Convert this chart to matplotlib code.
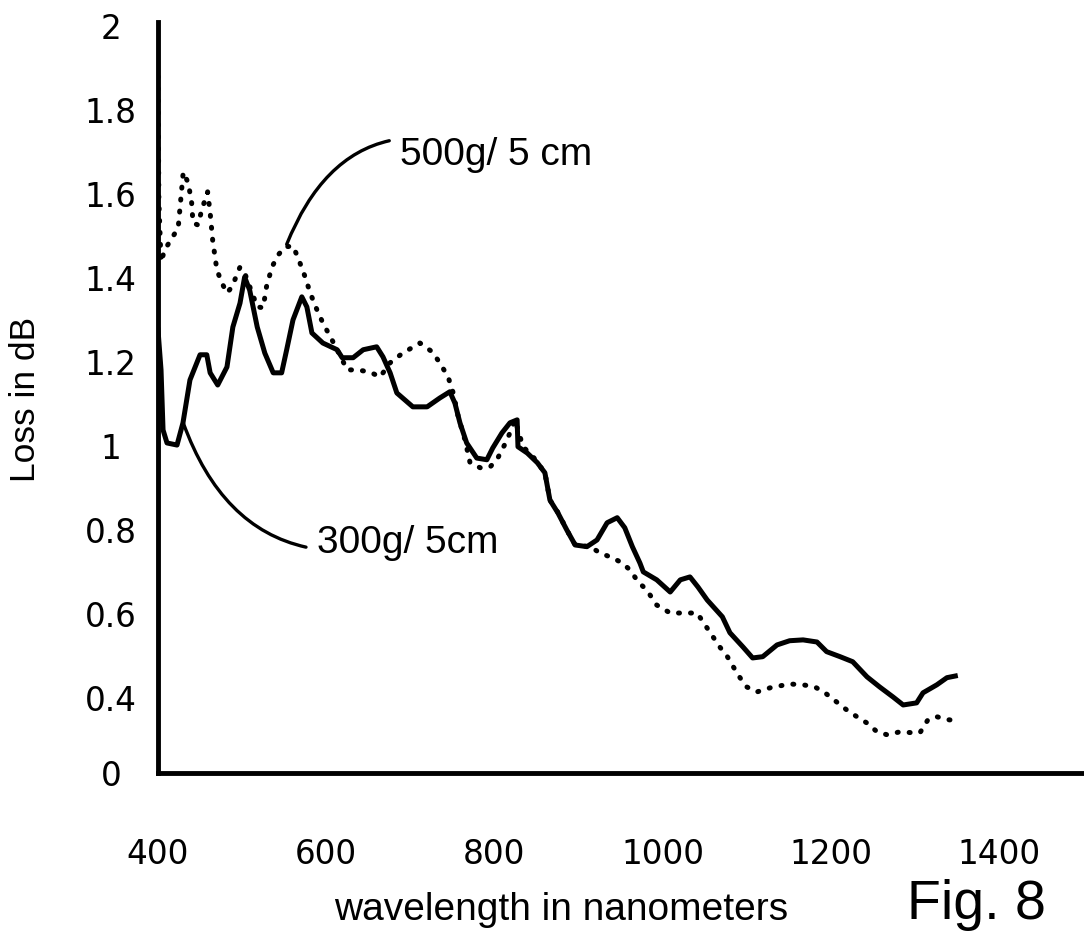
import numpy as np
import matplotlib.pyplot as plt

plt.rcParams['font.family'] = ['Liberation Sans', 'DejaVu Sans']

# 300g / 5cm (solid line)
wl_300 = [400, 403.6, 406, 410.7, 422.6, 429.7, 438, 450, 458, 462, 471, 482, 489, 497.5,
          503, 509, 518, 527, 537, 547, 553, 560.5, 571, 577, 583, 596, 613, 619, 632, 644,
          660, 667.5, 676, 684, 703, 720, 735, 747, 753, 759, 767, 779, 791, 798, 809, 818.5,
          827, 828, 839, 851, 860, 866, 875.6, 886, 896, 910, 922, 934, 946, 955, 964, 973,
          977, 993, 1009, 1021, 1032.5, 1042, 1053, 1071, 1080, 1095.6, 1107, 1119, 1136,
          1151, 1167, 1183.5, 1195, 1211, 1226, 1243, 1258, 1274, 1286, 1302, 1309.6, 1326,
          1338, 1348]
loss_300 = [1.276, 1.181, 1.038, 1.007, 1.002, 1.055, 1.157, 1.217, 1.217, 1.174, 1.145, 1.188,
            1.283, 1.340, 1.402, 1.371, 1.283, 1.221, 1.174, 1.174, 1.229, 1.300, 1.355, 1.331,
            1.269, 1.245, 1.229, 1.210, 1.210, 1.229, 1.236, 1.212, 1.174, 1.126, 1.093, 1.093,
            1.114, 1.129, 1.102, 1.055, 1.007, 0.971, 0.967, 0.995, 1.031, 1.055, 1.062, 0.998,
            0.983, 0.960, 0.936, 0.871, 0.840, 0.800, 0.764, 0.760, 0.776, 0.817, 0.829, 0.805,
            0.760, 0.721, 0.700, 0.681, 0.652, 0.681, 0.688, 0.664, 0.633, 0.593, 0.555, 0.521,
            0.495, 0.498, 0.526, 0.536, 0.538, 0.533, 0.510, 0.498, 0.486, 0.450, 0.426, 0.402,
            0.383, 0.388, 0.412, 0.431, 0.448, 0.452]

# 500g / 5 cm (dotted line)
wl_500 = [400, 401, 403.6, 408, 416.6, 424, 430, 436, 440, 441.6, 447.6, 452, 459, 462, 465,
          470, 476, 482, 488, 497.5, 503, 518, 525, 529, 535.5, 543, 551, 560.5, 566.5, 575,
          581, 589, 596, 607, 619, 625, 637, 652, 664, 676, 691, 711.5, 726, 735, 745, 751,
          757, 765, 771, 783, 795, 804, 815, 824.5, 834, 846, 860, 866, 876, 886, 896, 914,
          925.5, 941, 952, 961, 971, 981, 993, 1009, 1029, 1041, 1068, 1077, 1084, 1092, 1100,
          1112, 1128, 1151, 1167, 1181, 1193, 1207, 1219, 1231, 1243, 1255, 1267, 1282,
          1296.5, 1306, 1315.5, 1326, 1339, 1353.6]
loss_500 = [1.88, 1.586, 1.438, 1.467, 1.495, 1.519, 1.652, 1.626, 1.579, 1.531, 1.526, 1.562,
            1.605, 1.555, 1.490, 1.419, 1.388, 1.364, 1.379, 1.426, 1.412, 1.331, 1.329, 1.379,
            1.426, 1.455, 1.474, 1.476, 1.448, 1.402, 1.364, 1.324, 1.293, 1.252, 1.205, 1.181,
            1.181, 1.176, 1.164, 1.198, 1.221, 1.245, 1.224, 1.198, 1.164, 1.126, 1.069, 1.014,
            0.960, 0.948, 0.950, 0.971, 1.014, 1.062, 0.998, 0.974, 0.936, 0.871, 0.840, 0.800,
            0.764, 0.760, 0.745, 0.733, 0.721, 0.705, 0.676, 0.657, 0.621, 0.602, 0.602, 0.602,
            0.521, 0.498, 0.474, 0.448, 0.426, 0.414, 0.424, 0.433, 0.431, 0.426, 0.412, 0.390,
            0.371, 0.355, 0.340, 0.319, 0.312, 0.319, 0.317, 0.317, 0.348, 0.355, 0.348, 0.345]

# the printed axis has no 0.2 label, the bottom line is labelled 0
y_bottom = 0.221
ytick_vals = [y_bottom, 0.4, 0.6, 0.8, 1.0, 1.2, 1.4, 1.6, 1.8, 2.0]
ytick_labels = ['0', '0.4', '0.6', '0.8', '1', '1.2', '1.4', '1.6', '1.8', '2']
xtick_vals = [400, 600, 800, 1000, 1200, 1400]

fig = plt.figure(figsize=(10.84, 9.40), dpi=100)
ax = fig.add_axes([158 / 1084, 1 - 773 / 940, 926 / 1084, 751 / 940])

ax.plot(wl_300, loss_300, color='black', lw=3.6, solid_joinstyle='round')
ax.plot(wl_500, loss_500, color='black', lw=3.6, linestyle=(0, (0.2, 2.2)),
        dash_capstyle='round')

ax.set_xlim(400, 1501)
ax.set_ylim(y_bottom, 2.0095)

for s in ['top', 'right']:
    ax.spines[s].set_visible(False)
for s in ['left', 'bottom']:
    ax.spines[s].set_linewidth(3.5)

ax.set_yticks(ytick_vals)
ax.set_yticklabels(ytick_labels)
ax.set_xticks(xtick_vals)
ax.tick_params(axis='both', length=0, labelsize=23.5)
ax.tick_params(axis='y', pad=34)
ax.tick_params(axis='x', pad=47)
for tl in ax.get_yticklabels() + ax.get_xticklabels():
    tl.set_fontfamily('DejaVu Sans')
for tl in ax.get_yticklabels():
    tl.set_horizontalalignment('center')

ax.set_xlabel('wavelength in nanometers', fontsize=28, va='center')
ax.xaxis.set_label_coords(0.435, -0.182)
ax.set_ylabel('Loss in dB', fontsize=25.5, va='center')
ax.yaxis.set_label_coords(-0.1436, 0.497)

ax.annotate('500g/ 5 cm', xy=(553, 1.48), xytext=(688, 1.693), fontsize=28,
            ha='left', va='center',
            arrowprops=dict(arrowstyle='-', lw=2.4, color='black',
                            connectionstyle='arc3,rad=0.5', shrinkA=6, shrinkB=0))
ax.annotate('300g/ 5cm', xy=(430, 1.055), xytext=(589, 0.769), fontsize=28,
            ha='left', va='center',
            arrowprops=dict(arrowstyle='-', lw=2.4, color='black',
                            connectionstyle='arc3,rad=-0.45', shrinkA=6, shrinkB=0))

fig.text(976 / 1084, 1 - 905 / 940, 'Fig. 8', fontsize=40, ha='center', va='center')

fig.savefig('out.png', dpi=100)
